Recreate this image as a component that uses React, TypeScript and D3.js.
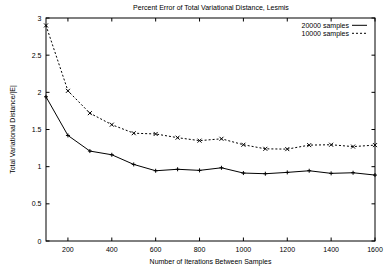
import * as d3 from "d3";

const iterations = [100, 200, 300, 400, 500, 600, 700, 800, 900, 1000, 1100, 1200, 1300, 1400, 1500, 1600];
const samples20000 = [1.94, 1.42, 1.21, 1.16, 1.03, 0.945, 0.965, 0.95, 0.985, 0.914, 0.905, 0.923, 0.945, 0.91, 0.918, 0.887];
const samples10000 = [2.9, 2.02, 1.72, 1.565, 1.45, 1.44, 1.39, 1.35, 1.375, 1.295, 1.24, 1.236, 1.29, 1.295, 1.27, 1.29];
const xTicks = [200, 400, 600, 800, 1000, 1200, 1400, 1600];
const yTicks = [0, 0.5, 1, 1.5, 2, 2.5, 3];

const W = 387;
const H = 270;
const font = "Liberation Sans, Arial, sans-serif";

function App() {
	const left = 46;
	const right = 375;
	const top = 18;
	const bottom = 241;
	const x = d3.scaleLinear().domain([100, 1600]).range([left, right]);
	const y = d3.scaleLinear().domain([0, 3]).range([bottom, top]);

	const line = d3
		.line<number>()
		.x((_, i) => x(iterations[i]))
		.y((d) => y(d));

	const plus = (cx: number, cy: number, k: string) => (
		<path key={k} d={`M${cx - 2},${cy}H${cx + 2}M${cx},${cy - 2}V${cy + 2}`} stroke="#000" strokeWidth={1} />
	);
	const cross = (cx: number, cy: number, k: string) => (
		<path
			key={k}
			d={`M${cx - 2},${cy - 2}L${cx + 2},${cy + 2}M${cx - 2},${cy + 2}L${cx + 2},${cy - 2}`}
			stroke="#000"
			strokeWidth={1}
		/>
	);

	return (
		<svg
			width={W}
			height={H}
			style={{ position: "absolute", left: 0, top: 0, background: "#fff" }}
			fontFamily={font}
		>
			<rect width={W} height={H} fill="#fff" />
			<text x={211} y={10} fontSize={7} textAnchor="middle" fill="#000">
				Percent Error of Total Variational Distance, Lesmis
			</text>

			{/* ticks, mirrored on all sides */}
			{yTicks.map((t) => (
				<g key={`y${t}`}>
					<line x1={left} x2={left + 3.5} y1={y(t)} y2={y(t)} stroke="#000" />
					<line x1={right - 3.5} x2={right} y1={y(t)} y2={y(t)} stroke="#000" />
					<text x={left - 4.5} y={y(t) + 2.5} fontSize={7} textAnchor="end">
						{t}
					</text>
				</g>
			))}
			{xTicks.map((t) => (
				<g key={`x${t}`}>
					<line x1={x(t)} x2={x(t)} y1={bottom} y2={bottom - 3.5} stroke="#000" />
					<line x1={x(t)} x2={x(t)} y1={top} y2={top + 3.5} stroke="#000" />
					<text x={x(t)} y={bottom + 11} fontSize={7} textAnchor="middle">
						{t}
					</text>
				</g>
			))}
			<text x={x(850)} y={263.5} fontSize={7} textAnchor="middle">
				Number of Iterations Between Samples
			</text>
			<text transform={`translate(15, ${(top + bottom) / 2}) rotate(-90)`} fontSize={7} textAnchor="middle">
				Total Variational Distance/|E|
			</text>

			{/* series */}
			<path d={line(samples20000) ?? ""} fill="none" stroke="#000" strokeWidth={1} />
			<path d={line(samples10000) ?? ""} fill="none" stroke="#000" strokeWidth={1} strokeDasharray="2,2" />
			{samples20000.map((v, i) => plus(x(iterations[i]), y(v), `p${i}`))}
			{samples10000.map((v, i) => cross(x(iterations[i]), y(v), `c${i}`))}

			{/* legend */}
			<text x={349} y={27.5} fontSize={7} textAnchor="end">
				20000 samples
			</text>
			<line x1={352} x2={367} y1={25.3} y2={25.3} stroke="#000" />
			<text x={349} y={35.5} fontSize={7} textAnchor="end">
				10000 samples
			</text>
			<line x1={352} x2={367} y1={33.3} y2={33.3} stroke="#000" strokeDasharray="2,2" />

			<rect x={left} y={top} width={right - left} height={bottom - top} fill="none" stroke="#000" strokeWidth={1} />
		</svg>
	);
}

export default App;
